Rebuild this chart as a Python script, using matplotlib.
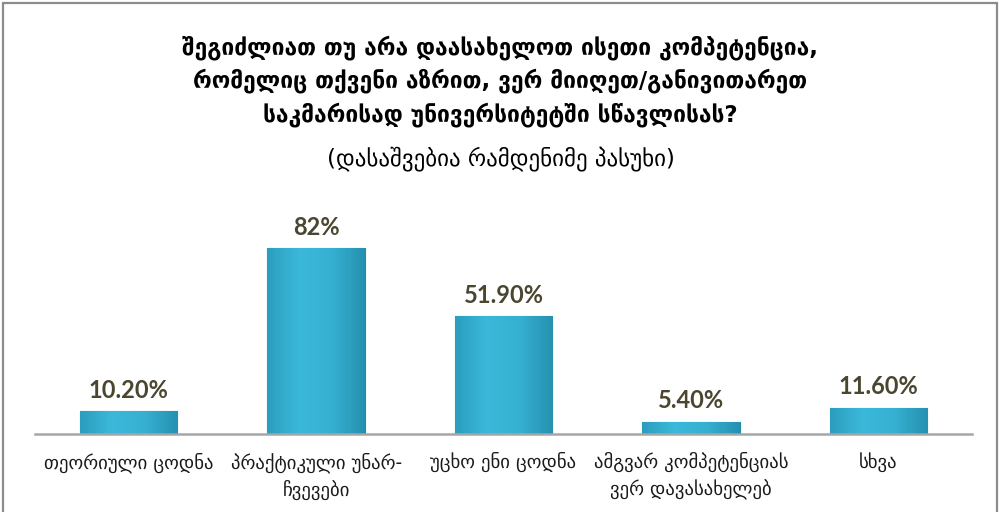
import matplotlib
matplotlib.use("Agg")
import matplotlib.pyplot as plt
import numpy as np
from matplotlib.patches import Rectangle
from matplotlib.colors import LinearSegmentedColormap

categories = ["თეორიული ცოდნა", "პრაქტიკული უნარ-\nჩვევები", "უცხო ენი ცოდნა",
              "ამგვარ კომპეტენციას\nვერ დავასახელებ", "სხვა"]
values = [10.2, 82.0, 51.9, 5.4, 11.6]
value_labels = ["10.20%", "82%", "51.90%", "5.40%", "11.60%"]
title_lines = ["შეგიძლიათ თუ არა დაასახელოთ ისეთი კომპეტენცია,",
               "რომელიც თქვენი აზრით, ვერ მიიღეთ/განივითარეთ",
               "საკმარისად უნივერსიტეტში სწავლისას?"]
subtitle = "(დასაშვებია რამდენიმე პასუხი)"

W, H = 1001, 512
fig = plt.figure(figsize=(W / 100, H / 100), dpi=100)
fig.patch.set_facecolor("white")

# outer frame
fig.add_artist(Rectangle((3 / W, -0.02), (997 - 3) / W, (509 + 10) / H,
                         transform=fig.transFigure, fill=False,
                         edgecolor="#8c8c8c", linewidth=1.6))

ax = fig.add_axes([35 / W, (H - 434) / H, (972 - 35) / W, 234 / H])
ax.set_xlim(-0.5, len(values) - 0.5)
ax.set_ylim(0, 234 / 2.27)
x = np.arange(len(values))
bars = ax.bar(x, values, width=0.52, color="#33AACB", edgecolor="#2489A6",
              linewidth=0.8, zorder=2)

# gradient fill for each bar
grad = np.linspace(0, 1, 256).reshape(1, -1)
cmap = LinearSegmentedColormap.from_list("b", ["#2C9DBE", "#3BB9DA", "#36B0D1", "#2690B0"])
for b in bars:
    x0, y0 = b.get_x(), b.get_y()
    w, h = b.get_width(), b.get_height()
    im = ax.imshow(grad, extent=[x0, x0 + w, y0, y0 + h], aspect="auto",
                   cmap=cmap, zorder=2.5)
    im.set_clip_path(b)

for xi, v, lab in zip(x, values, value_labels):
    ax.annotate(lab, (xi, v), xytext=(0, 15), textcoords="offset points",
                ha="center", va="center", fontsize=17, fontweight="bold",
                family="Lato", color="#4A4630")

for s in ["top", "right", "left"]:
    ax.spines[s].set_visible(False)
ax.spines["bottom"].set_color("#A6A6A6")
ax.spines["bottom"].set_linewidth(1.8)
ax.set_yticks([])
ax.set_xticks(x)
ax.set_xticklabels(categories, fontsize=13.5, family="DejaVu Sans", color="#1a1a1a",
                   linespacing=1.45)
ax.tick_params(axis="x", length=0, pad=13)

fig.text(0.5, (H - 81) / H, "\n".join(title_lines), ha="center", va="center",
         fontsize=16.4, fontweight="bold", family="DejaVu Sans", linespacing=1.45,
         color="black")
fig.text(0.5, (H - 160) / H, subtitle, ha="center", va="center",
         fontsize=16.5, family="DejaVu Sans", color="black")

fig.savefig("out.png", dpi=100)
